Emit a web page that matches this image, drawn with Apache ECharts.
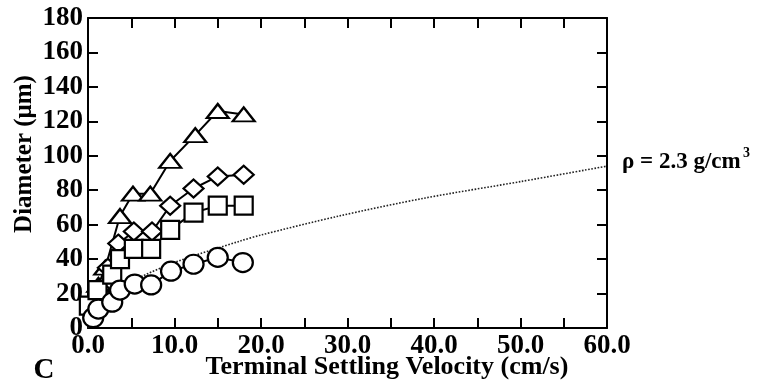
<!DOCTYPE html>
<html><head><meta charset="utf-8">
<script src="https://cdn.jsdelivr.net/npm/echarts@6/dist/echarts.min.js"></script>
<style>html,body{margin:0;padding:0;background:#fff}#c{width:759px;height:383px}</style>
</head><body><div id="c"></div>
<script>
// Data: [velocity (cm/s), diameter (µm)]
var triangles = [[0.5,14],[1.2,25],[2.0,35],[3.7,65],[5.2,78],[7.2,78],[9.5,97],[12.4,112],[15.0,126],[18.0,124]];
var diamonds  = [[0.5,13],[1.3,23],[2.3,35],[3.5,49],[5.3,56],[7.4,56],[9.5,71],[12.2,81],[15.0,88],[18.0,89]];
var squares   = [[0.1,13],[1.1,22],[2.8,31],[3.7,40],[5.3,46],[7.3,46],[9.5,57],[12.2,67],[15.0,71],[18.0,71]];
var circles   = [[0.6,6],[1.2,11],[2.8,15],[3.7,22],[5.4,25.5],[7.3,25],[9.6,33],[12.2,37],[15.0,41],[17.9,38]];
var curve     = [[0,0],[1,12],[2.5,19],[5,27],[10,38],[17.6,50.5],[20,54],[29,65],[39,75.5],[50,85],[60,94]];
var xTicks = {min:0, max:60, interval:5};
var yTicks = {min:0, max:180, interval:20};

var chart = echarts.init(document.getElementById('c'));
var serif = 'Liberation Serif';
function markerSeries(data, symbol, size){
  return {type:'line', data:data, symbol:symbol, symbolSize:size, clip:false, z:3,
    lineStyle:{color:'#000', width:2}, itemStyle:{color:'#fff', borderColor:'#000', borderWidth:2.2},
    emphasis:{disabled:true}};
}
var tick = {show:true, inside:true, length:10, lineStyle:{color:'#000', width:2}};
var line = {show:true, onZero:false, lineStyle:{color:'#000', width:2}};
chart.setOption({
  animation:false,
  backgroundColor:'#fff',
  grid:{left:88, top:18, width:519, height:310},
  xAxis:[{type:'value', min:xTicks.min, max:xTicks.max, interval:xTicks.interval,
      axisLine:line, axisTick:tick, splitLine:{show:false},
      axisLabel:{fontFamily:serif, fontWeight:'bold', fontSize:27, color:'#000', margin:5,
        formatter:function(v){return v%10===0 ? v.toFixed(1) : '';}}},
    {type:'value', position:'top', min:xTicks.min, max:xTicks.max, interval:xTicks.interval,
      axisLine:line, axisTick:tick, axisLabel:{show:false}, splitLine:{show:false}}],
  yAxis:[{type:'value', min:yTicks.min, max:yTicks.max, interval:yTicks.interval,
      axisLine:line, axisTick:tick, splitLine:{show:false},
      axisLabel:{fontFamily:serif, fontWeight:'bold', fontSize:27, color:'#000', margin:5}},
    {type:'value', position:'right', min:yTicks.min, max:yTicks.max, interval:yTicks.interval,
      axisLine:line, axisTick:tick, axisLabel:{show:false}, splitLine:{show:false}}],
  graphic:[
    {type:'text', x:25, y:154, rotation:Math.PI/2,
      style:{text:'Diameter (μm)', font:'bold 25px "Liberation Serif"', fill:'#000', align:'center', verticalAlign:'middle'}},
    {type:'text', x:387, y:367,
      style:{text:'Terminal Settling Velocity (cm/s)', font:'bold 26px "Liberation Serif"', fill:'#000', align:'center', verticalAlign:'middle'}},
    {type:'text', x:44, y:371, style:{text:'C', font:'bold 29px "Liberation Serif"', fill:'#000', align:'center', verticalAlign:'middle'}},
    {type:'text', x:622, y:162, style:{text:'ρ = 2.3 g/cm', font:'bold 23px "Liberation Serif"', fill:'#000', align:'left', verticalAlign:'middle'}},
    {type:'text', x:743, y:153, style:{text:'3', font:'bold 14px "Liberation Serif"', fill:'#000', align:'left', verticalAlign:'middle'}}
  ],
  series:[
    {type:'line', data:curve, smooth:0.3, symbol:'none', z:1, clip:false,
      lineStyle:{color:'#222', width:1.6, type:'dotted'}},
    markerSeries(triangles, 'triangle', [22,14]),
    markerSeries(diamonds, 'diamond', [20,18]),
    markerSeries(squares, 'rect', [18,18]),
    markerSeries(circles, 'circle', [20,19])
  ]
});
</script></body></html>
